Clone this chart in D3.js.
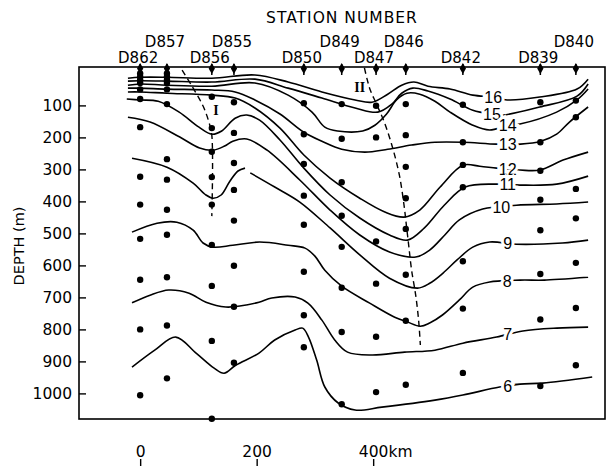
<!DOCTYPE html>
<html>
<head>
<meta charset="utf-8">
<script src="https://cdn.jsdelivr.net/npm/d3@7"></script>
<style>
  body { margin: 0; background: #fff; }
  svg { display: block; font-family: "DejaVu Sans", sans-serif; }
  text { fill: #000; }
</style>
</head>
<body>
<svg id="chart" width="607" height="466"></svg>
<script>
// stations along the section, distance in km from D862
var stations = ["D862", "D857", "D856", "D855", "D850", "D849", "D847", "D846", "D842", "D839", "D840"];
var stationKm = [0, 46, 123, 161, 281, 346, 405, 456, 554, 687, 748];
var upperRow = ["D857", "D855", "D849", "D846", "D840"];

// sampling depths (m) at each station, same order as stations
var sampleDepths = [
    [0, 10, 20, 30, 50, 80, 168, 323, 410, 517, 645, 800, 1006],
    [0, 10, 20, 30, 50, 96, 268, 332, 426, 504, 637, 788, 953],
    [73, 171, 245, 324, 410, 536, 664, 836, 1079],
    [90, 186, 280, 364, 460, 601, 729, 904],
    [93, 190, 283, 382, 473, 620, 756, 856],
    [96, 204, 340, 445, 542, 670, 808, 1034],
    [101, 200, 525, 657, 823, 996],
    [96, 193, 292, 390, 486, 629, 773, 973],
    [98, 215, 286, 356, 587, 735, 936],
    [90, 215, 304, 395, 490, 627, 769, 977],
    [85, 137, 361, 453, 592, 733, 912]
];

// isotherms, [km, depth m]
var iso16 = [[-21,15],[0,12],[46,12],[123,15],[197,5],[254,27],[312,58],[369,83],[398,90],[425,65],[449,37],[470,27],[494,40],[532,49],[571,68],[606,74],[630,83],[686,74],[750,49],[769,18]];
var iso15 = [[-21,24],[0,23],[46,24],[123,27],[197,18],[254,46],[312,77],[369,108],[408,121],[432,96],[449,62],[468,46],[494,55],[532,80],[571,115],[604,127],[623,130],[686,105],[750,71],[769,33]];
var iso14 = [[-21,37],[0,33],[46,37],[123,40],[197,30],[254,68],[295,121],[317,168],[339,180],[382,180],[403,162],[423,127],[440,83],[458,62],[480,65],[506,87],[532,121],[571,162],[600,177],[631,162],[652,158],[715,121],[750,83],[769,49]];
var iso13 = [[-21,46],[0,46],[46,49],[123,52],[163,58],[197,83],[240,127],[281,184],[312,212],[346,237],[386,246],[425,237],[466,224],[506,215],[554,215],[612,221],[653,221],[688,212],[715,190],[737,152],[769,105]];
var iso12 = [[-21,58],[0,58],[46,62],[123,68],[163,77],[197,108],[240,171],[281,255],[326,327],[377,390],[420,433],[453,449],[480,427],[515,355],[554,287],[583,290],[612,296],[652,302],[686,302],[726,271],[769,246]];
var iso11 = [[-23,80],[0,83],[31,87],[67,121],[101,168],[123,190],[140,180],[163,140],[183,130],[205,146],[240,208],[281,296],[326,380],[377,452],[428,505],[459,521],[488,483],[522,412],[558,355],[612,346],[652,349],[715,346],[769,321]];
var iso10 = [[-21,137],[17,152],[68,199],[102,233],[125,240],[145,227],[159,212],[183,205],[218,240],[274,333],[326,427],[377,505],[428,558],[473,574],[497,552],[523,505],[548,458],[588,424],[646,412],[715,408],[769,402]];
var iso9a = [[-14,265],[46,293],[91,343],[113,380],[125,390],[139,380],[154,337],[168,305],[180,296]];
var iso9 = [[189,311],[231,355],[274,402],[326,483],[377,567],[428,640],[476,671],[497,656],[520,624],[544,583],[571,543],[600,527],[646,534],[725,530],[769,521]];
var iso8 = [[-14,496],[29,468],[63,465],[91,490],[108,530],[125,543],[159,537],[205,527],[254,537],[283,546],[300,571],[317,615],[346,665],[394,718],[437,762],[459,777],[481,790],[497,780],[519,755],[548,708],[571,668],[600,652],[652,646],[694,646],[769,637]];
var iso7 = [[-14,717],[17,693],[49,677],[84,687],[113,715],[147,730],[171,727],[204,715],[226,702],[266,699],[288,718],[312,771],[334,833],[356,871],[398,880],[454,871],[506,865],[554,843],[612,824],[657,805],[715,796],[769,793]];
var iso6 = [[-14,918],[25,865],[61,824],[96,874],[127,921],[144,937],[164,912],[204,874],[231,833],[266,802],[279,796],[289,824],[303,896],[317,980],[340,1030],[369,1052],[415,1043],[506,1021],[554,1005],[617,980],[652,971],[691,968],[776,949]];

var isoTemps = [16, 15, 14, 13, 12, 11, 10, 9, 8, 7, 6];
var isoLines = [iso16, iso15, iso14, iso13, iso12, iso11, iso10, iso9, iso8, iso7, iso6];
var labelKm = [606, 604, 631, 631, 631, 631, 620, 631, 630, 631, 631];

// axes of the two features
var axisI = [[72,-10],[89,40],[108,102],[118,152],[123,193],[123,446]];
var axisII = [[385,-17],[390,21],[395,52],[405,93],[419,152],[433,230],[445,318],[453,412],[457,474],[461,537],[466,615],[473,693],[478,771],[481,849]];
var featureNames = ["I", "II"];
var featureAt = [[130,115],[377,42]];

var depthTicks = [100, 200, 300, 400, 500, 600, 700, 800, 900, 1000];
var kmTicks = [0, 200, 400];

var svg = d3.select("#chart");
var width = 607, height = 466;
var margin = { top: 67, right: 2, bottom: 47, left: 79 };

var x = d3.scaleLinear().domain([-105, 798]).range([margin.left, width - margin.right]);
var y = d3.scaleLinear().domain([-20, 1080]).range([margin.top, height - margin.bottom]);

var line = d3.line()
    .x(function (d) { return x(d[0]); })
    .y(function (d) { return y(d[1]); })
    .curve(d3.curveCatmullRom.alpha(0.5));

svg.append("clipPath").attr("id", "plot")
    .append("rect")
    .attr("x", margin.left).attr("y", margin.top)
    .attr("width", width - margin.left - margin.right)
    .attr("height", height - margin.top - margin.bottom);

// isotherms
var lines = svg.append("g").attr("clip-path", "url(#plot)")
    .attr("fill", "none").attr("stroke", "#000").attr("stroke-width", 1.6);

lines.selectAll("path.iso")
    .data(isoLines.concat([iso9a]))
    .join("path")
    .attr("class", "iso")
    .attr("d", line);

// dashed axes I and II
lines.selectAll("path.axis")
    .data([axisI, axisII])
    .join("path")
    .attr("class", "axis")
    .attr("stroke-width", 1.4)
    .attr("stroke-dasharray", "6,4")
    .attr("d", line);

// labels on isotherms
function depthAt(pts, km) {
    for (var i = 1; i < pts.length; i++) {
        if (pts[i][0] >= km) {
            var t = (km - pts[i - 1][0]) / (pts[i][0] - pts[i - 1][0]);
            return pts[i - 1][1] + t * (pts[i][1] - pts[i - 1][1]);
        }
    }
    return pts[pts.length - 1][1];
}

svg.append("g").selectAll("text")
    .data(isoTemps)
    .join("text")
    .attr("x", function (d, i) { return x(labelKm[i]); })
    .attr("y", function (d, i) { return y(depthAt(isoLines[i], labelKm[i])); })
    .attr("dy", "0.36em")
    .attr("text-anchor", "middle")
    .style("font-family", "'Liberation Sans', Arial, sans-serif")
    .style("font-size", "16px")
    .style("stroke", "#fff").style("stroke-width", 6)
    .style("paint-order", "stroke")
    .text(function (d) { return d; });

svg.append("g").selectAll("text")
    .data(featureNames)
    .join("text")
    .attr("x", function (d, i) { return x(featureAt[i][0]); })
    .attr("y", function (d, i) { return y(featureAt[i][1]); })
    .attr("dy", "0.36em")
    .attr("text-anchor", "middle")
    .style("font-family", "'Liberation Serif', serif")
    .style("font-size", "14px")
    .style("font-weight", "bold")
    .text(function (d) { return d; });

// frame
svg.append("rect")
    .attr("x", margin.left).attr("y", margin.top)
    .attr("width", width - margin.left - margin.right)
    .attr("height", height - margin.top - margin.bottom)
    .attr("fill", "none").attr("stroke", "#000").attr("stroke-width", 1.6);

// sample dots
var dots = [];
sampleDepths.forEach(function (list, i) {
    list.forEach(function (d) { dots.push([stationKm[i], d]); });
});
svg.append("g").selectAll("circle")
    .data(dots)
    .join("circle")
    .attr("cx", function (d) { return x(d[0]); })
    .attr("cy", function (d) { return y(d[1]); })
    .attr("r", 3.2)
    .attr("fill", "#000");

// station markers and names
var marks = svg.append("g");
marks.selectAll("line")
    .data(stationKm)
    .join("line")
    .attr("x1", function (d) { return x(d); }).attr("x2", function (d) { return x(d); })
    .attr("y1", margin.top - 3).attr("y2", margin.top + 8)
    .attr("stroke", "#000").attr("stroke-width", 1.5);
marks.selectAll("path")
    .data(stationKm)
    .join("path")
    .attr("transform", function (d) { return "translate(" + x(d) + "," + (margin.top + 1.5) + ")"; })
    .attr("d", d3.symbol(d3.symbolDiamond, 34));

svg.append("g").selectAll("text")
    .data(stations)
    .join("text")
    .attr("x", function (d, i) { return x(stationKm[i]) - 2; })
    .attr("y", function (d) { return upperRow.indexOf(d) >= 0 ? 46.5 : 63; })
    .attr("text-anchor", "middle")
    .style("font-size", "15px")
    .text(function (d) { return d; });

svg.append("text")
    .attr("x", 342).attr("y", 23)
    .attr("text-anchor", "middle")
    .style("font-size", "15.5px")
    .style("letter-spacing", "1px")
    .text("STATION NUMBER");

// depth axis
var yAxis = svg.append("g")
    .attr("transform", "translate(" + margin.left + ",0)")
    .call(d3.axisLeft(y).tickValues(depthTicks).tickSize(-7).tickPadding(7).tickFormat(d3.format("d")))
    .attr("font-family", null).attr("font-size", null);
yAxis.select(".domain").remove();
yAxis.selectAll("line").attr("stroke", "#000").attr("stroke-width", 1.4);
yAxis.selectAll("text").style("font-size", "15.5px");

svg.append("text")
    .attr("transform", "translate(24,246) rotate(-90)")
    .attr("text-anchor", "middle")
    .style("font-size", "14.5px")
    .text("DEPTH (m)");

// distance scale below the section
var xAxis = svg.append("g")
    .attr("transform", "translate(0," + height + ")")
    .call(d3.axisTop(x).tickValues(kmTicks).tickSize(7).tickPadding(2).tickFormat(d3.format("d")))
    .attr("font-family", null).attr("font-size", null);
xAxis.select(".domain").remove();
xAxis.selectAll("line").attr("stroke", "#000").attr("stroke-width", 1.4);
xAxis.selectAll("text").style("font-size", "15.5px");
xAxis.selectAll("text").filter(function (d) { return d === kmTicks[kmTicks.length - 1]; })
    .each(function () {
        var t = d3.select(this);
        var unit = t.append("tspan").text("km");
        t.attr("x", unit.node().getComputedTextLength() / 2);
    });
</script>
</body>
</html>
